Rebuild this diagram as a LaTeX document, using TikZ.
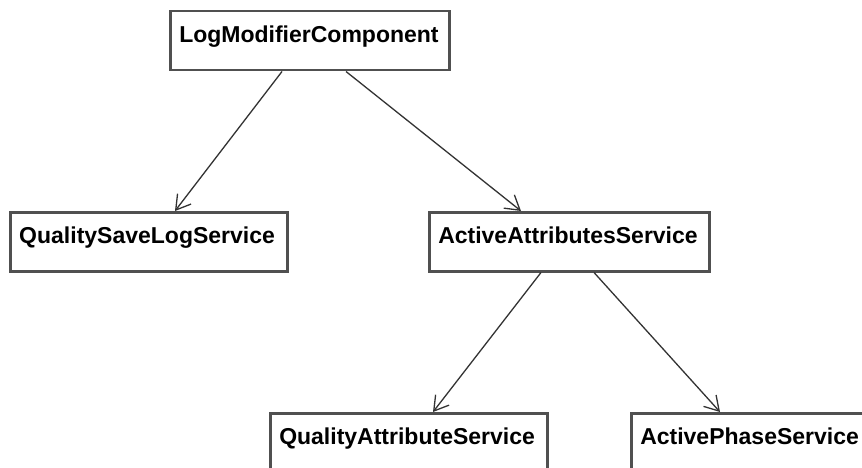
\documentclass[tikz,border=0pt]{standalone}
\usepackage{fontspec}
\setmainfont{Liberation Sans}
\usetikzlibrary{arrows.meta}
\definecolor{boxline}{HTML}{505050}
\definecolor{arrline}{HTML}{333333}
\tikzset{
  classbox/.style={draw=boxline, line width=2.5pt, fill=white, rectangle,
    anchor=north west, inner xsep=9pt, inner ysep=4.5pt,
    text height=26.5pt, text depth=23.5pt, align=left,
    font=\fontsize{23}{27}\selectfont\bfseries},
  dep/.style={draw=arrline, line width=1.3pt,
    -{Straight Barb[length=14pt,width=17pt]}}
}
\begin{document}
\begin{tikzpicture}[x=1pt,y=-1pt]
\useasboundingbox (0,0) rectangle (862,468);
\clip (0,0) rectangle (862,468);
\fill[white] (0,0) rectangle (862,468);
\node[classbox, text width=261pt] (A) at (169,10) {LogModifierComponent};
\node[classbox, text width=259pt] (B) at (9,211) {QualitySaveLogService};
\node[classbox, text width=262pt] (C) at (428,211) {ActiveAttributesService};
\node[classbox, text width=259pt] (D) at (269,412) {QualityAttributeService};
\node[classbox, text width=262pt] (E) at (630,412) {ActivePhaseService};
\draw[dep] ([xshift=113pt]A.south west) -- ([xshift=166pt]B.north west);
\draw[dep] ([xshift=177pt]A.south west) -- ([xshift=93pt]C.north west);
\draw[dep] ([xshift=113pt]C.south west) -- ([xshift=164pt]D.north west);
\draw[dep] ([xshift=166pt]C.south west) -- ([xshift=90pt]E.north west);
\end{tikzpicture}
\end{document}
